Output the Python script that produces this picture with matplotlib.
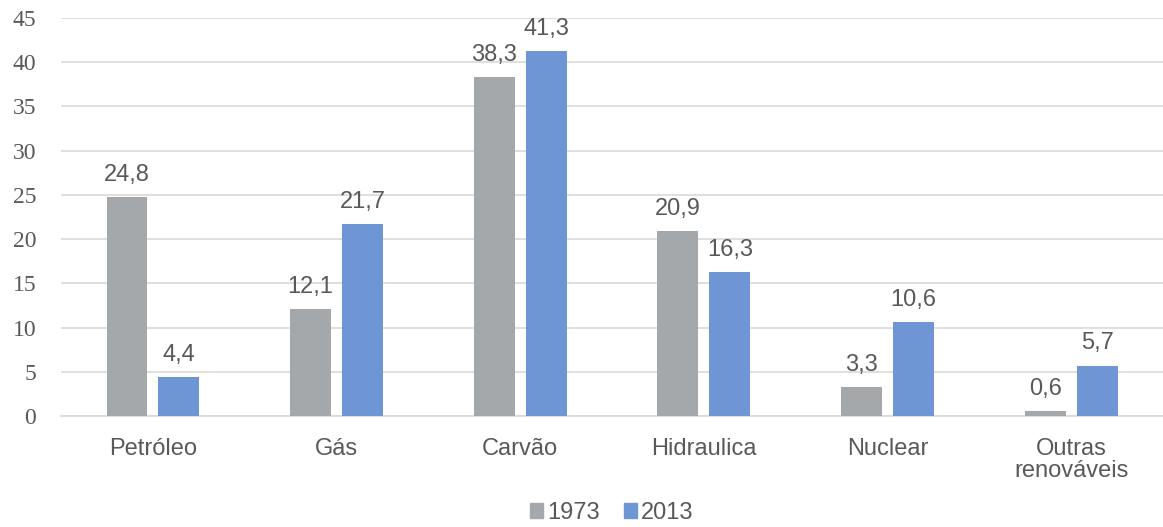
import numpy as np
import matplotlib.pyplot as plt
from matplotlib.patches import Patch

categories = ["Petróleo", "Gás", "Carvão", "Hidraulica", "Nuclear", "Outras\nrenováveis"]
values_1973 = [24.8, 12.1, 38.3, 20.9, 3.3, 0.6]
values_2013 = [4.4, 21.7, 41.3, 16.3, 10.6, 5.7]
series_labels = ["1973", "2013"]

gray = "#A5A8AB"
blue = "#6F96D4"
text_col = "#595959"

fig = plt.figure(figsize=(11.63, 5.27), dpi=100)
ax = fig.add_axes([0.0525, 0.2106, 0.9475, 0.7554])

x = np.arange(len(categories))
w = 0.223
off = 0.141
b1 = ax.bar(x - off, values_1973, w, color=gray, zorder=3)
b2 = ax.bar(x + off, values_2013, w, color=blue, zorder=3)

for bars, vals in ((b1, values_1973), (b2, values_2013)):
    for rect, v in zip(bars, vals):
        ax.annotate(f"{v:.1f}".replace(".", ","),
                    (rect.get_x() + rect.get_width() / 2, v),
                    xytext=(0, 8), textcoords="offset points",
                    ha="center", va="bottom", fontsize=17,
                    family="Liberation Sans", color=text_col)

ax.set_xlim(-0.5, len(categories) - 0.5)
ax.set_ylim(0, 45)
ax.set_yticks(range(0, 46, 5))
ax.set_yticklabels([str(t) for t in range(0, 46, 5)],
                   family="Liberation Serif", fontsize=17, color=text_col)
ax.set_xticks(x)
ax.set_xticklabels(categories, family="Liberation Sans", fontsize=17, color=text_col,
                   linespacing=1.0)
ax.tick_params(axis="both", length=0)
ax.tick_params(axis="y", pad=18)
ax.tick_params(axis="x", pad=16)
ax.grid(axis="y", color="#D9D9D9", linewidth=1.2, zorder=0)
for s in ["top", "right", "left"]:
    ax.spines[s].set_visible(False)
ax.spines["bottom"].set_color("#D9D9D9")
ax.spines["bottom"].set_linewidth(1.2)

handles = [Patch(color=gray), Patch(color=blue)]
fig.legend(handles, series_labels, loc="center", bbox_to_anchor=(0.526, 0.027),
           ncol=2, frameon=False, handlelength=0.55, handleheight=0.55,
           handletextpad=0.2, columnspacing=1.0,
           prop={"family": "Liberation Sans", "size": 17}, labelcolor=text_col)

fig.savefig("out.png", dpi=100)
